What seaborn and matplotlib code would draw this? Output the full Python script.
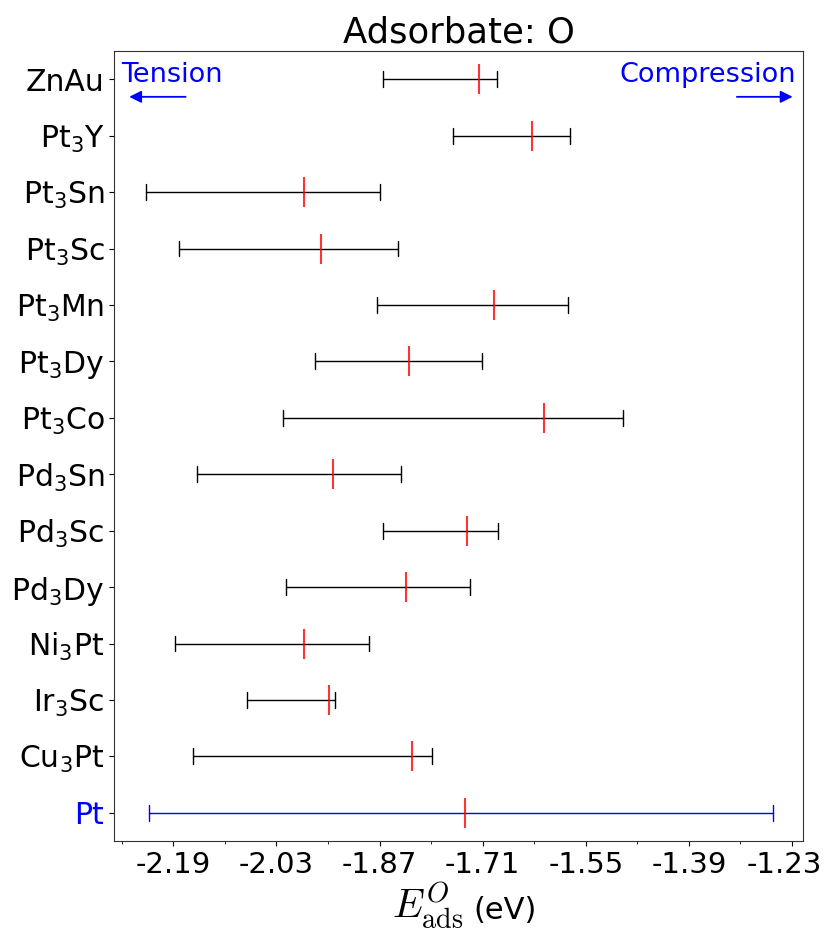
import numpy as np
import pandas as pd
import matplotlib
matplotlib.use("Agg")
import matplotlib.pyplot as plt
import matplotlib.transforms as mtransforms
import seaborn as sns

# ---- data ----
alloys = ["ZnAu", "Pt$_3$Y", "Pt$_3$Sn", "Pt$_3$Sc", "Pt$_3$Mn", "Pt$_3$Dy", "Pt$_3$Co",
          "Pd$_3$Sn", "Pd$_3$Sc", "Pd$_3$Dy", "Ni$_3$Pt", "Ir$_3$Sc", "Cu$_3$Pt", "Pt"]
e_low = [-1.865, -1.756, -2.232, -2.181, -1.874, -1.970, -2.020,
         -2.153, -1.865, -2.015, -2.187, -2.076, -2.159, -2.228]
e_high = [-1.687, -1.574, -1.869, -1.841, -1.578, -1.711, -1.492,
          -1.837, -1.686, -1.730, -1.886, -1.939, -1.789, -1.260]
e_mid = [-1.716, -1.633, -1.987, -1.961, -1.692, -1.824, -1.615,
         -1.942, -1.735, -1.829, -1.987, -1.948, -1.820, -1.737]
xticks_major = [-2.19, -2.03, -1.87, -1.71, -1.55, -1.39, -1.23]
xticks_minor = [-2.27, -2.11, -1.95, -1.79, -1.63, -1.47, -1.31]
title = "Adsorbate: O"

# long-form table: the three readings per alloy (min, median, max)
rows = []
for a, lo, mi, hi in zip(alloys, e_low, e_mid, e_high):
    for v in (lo, mi, hi):
        rows.append({"alloy": a, "E": v})
df = pd.DataFrame(rows)
df_mid = pd.DataFrame({"alloy": alloys, "E": e_mid})

sns.set_style("ticks")
plt.rcParams["font.family"] = ["DejaVu Sans"]
plt.rcParams["mathtext.fontset"] = "dejavusans"
plt.rcParams["axes.edgecolor"] = "0.2"
plt.rcParams["text.color"] = "black"
plt.rcParams["xtick.color"] = "black"
plt.rcParams["ytick.color"] = "black"
plt.rcParams["axes.labelcolor"] = "black"

W, H = 827, 936
fig = plt.figure(figsize=(W / 100, H / 100), dpi=100)
L, R, T, B = 114, 803, 51, 841
ax = fig.add_axes([L / W, 1 - B / H, (R - L) / W, (B - T) / H])

palette = {a: ("blue" if a == "Pt" else "black") for a in alloys}
sns.pointplot(data=df, x="E", y="alloy", hue="alloy", order=alloys, hue_order=alloys,
              palette=palette, estimator="median", errorbar=("pi", 100),
              capsize=0.28, linestyle="none", markersize=0, markeredgewidth=0,
              err_kws={"linewidth": 1.0}, legend=False, ax=ax)
sns.pointplot(data=df_mid, x="E", y="alloy", order=alloys, color="red",
              errorbar=None, linestyle="none", marker="|", markersize=21,
              markeredgewidth=1.5, alpha=0.8, ax=ax)

ax.set_xlim(-2.282, -1.213)
ax.set_ylim(len(alloys) - 0.5, -0.5)
ax.set_xticks(xticks_major)
ax.set_xticklabels([f"{t:.2f}" for t in xticks_major])
ax.set_xticks(xticks_minor, minor=True)
ax.tick_params(axis="x", which="major", labelsize=21, direction="out")
ax.tick_params(axis="y", which="major", labelsize=21.5, direction="out")
ax.tick_params(axis="y", which="minor", left=False)
for lbl in ax.get_yticklabels():
    if lbl.get_text() == "Pt":
        lbl.set_color("blue")
# nudge the last x tick label inward as in the reference
last = ax.get_xticklabels()[-1]
last.set_transform(last.get_transform() +
                   mtransforms.ScaledTranslation(-8 / 100, 0, fig.dpi_scale_trans))

ax.set_ylabel("")
ax.set_xlabel("")
# x label: larger serif math symbol followed by the unit
fig.text(392 / W, 1 - 919 / H, r"$E^{O}_{\mathrm{ads}}$", fontsize=29,
         math_fontfamily="cm", ha="left", va="baseline")
fig.text(473 / W, 1 - 919 / H, "(eV)", fontsize=22, ha="left", va="baseline")
ax.set_title(title, fontsize=25.5)

ax.text(0.011, 0.961, "Tension", transform=ax.transAxes, color="blue",
        fontsize=19.5, ha="left", va="baseline")
ax.text(0.99, 0.961, "Compression", transform=ax.transAxes, color="blue",
        fontsize=19.5, ha="right", va="baseline")
ax.annotate("", xy=(0.018, 0.942), xytext=(0.108, 0.942), xycoords="axes fraction",
            arrowprops=dict(arrowstyle="-|>", color="blue", lw=1.3, mutation_scale=18))
ax.annotate("", xy=(0.989, 0.942), xytext=(0.9, 0.942), xycoords="axes fraction",
            arrowprops=dict(arrowstyle="-|>", color="blue", lw=1.3, mutation_scale=18))

fig.savefig("out.png", dpi=100)
